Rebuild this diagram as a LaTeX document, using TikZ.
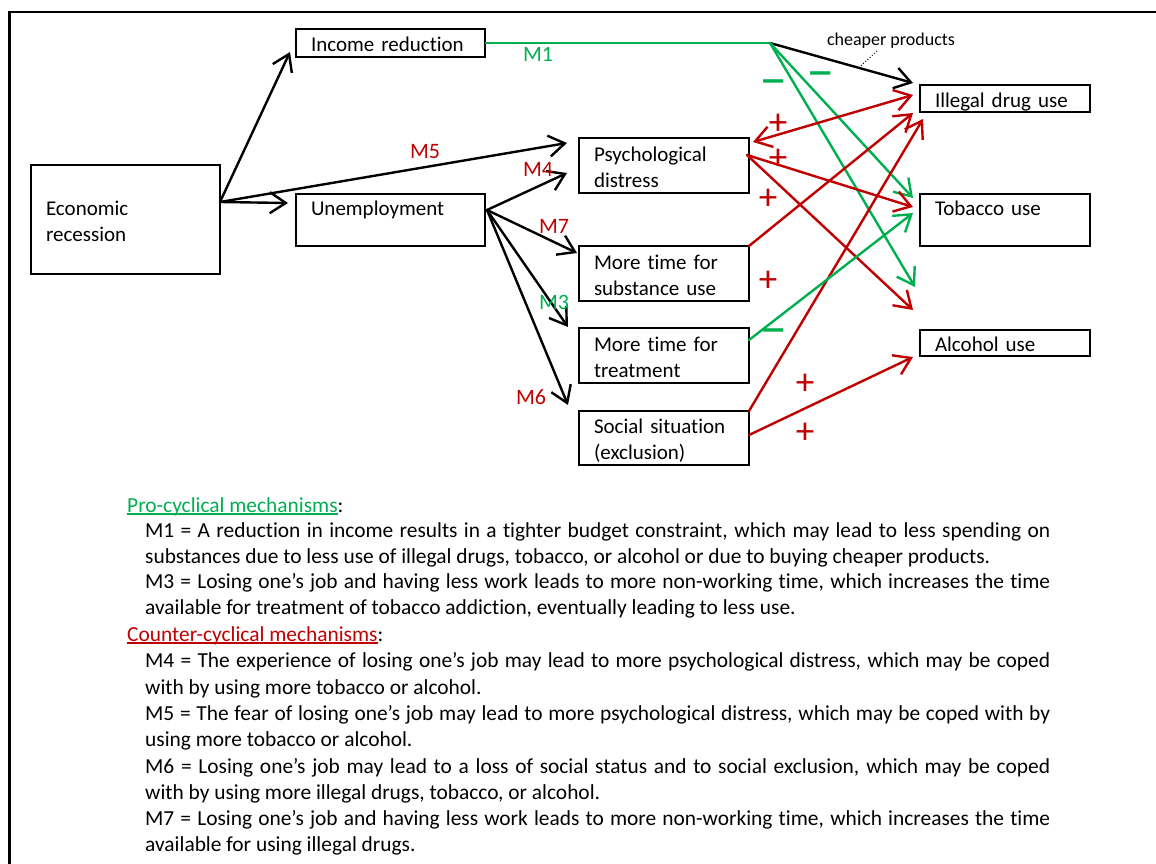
\documentclass[tikz,border=0pt]{standalone}
\usepackage{graphicx}
\usepackage{fontspec}
\setmainfont{Carlito}[Ligatures=CommonOff]
\usetikzlibrary{arrows.meta,calc}
\definecolor{ured}{RGB}{192,0,0}
\definecolor{ugreen}{RGB}{0,176,80}
% coloured, underlined heading followed by a black colon
\newcommand\mechhead[2]{{\color{#1}\setbox0\hbox{#2}\rlap{\rule[-3pt]{\wd0}{1.7pt}}\box0}:}
% strut used inside the boxes (lowered text block)
\newcommand\boxstrut{\rule[-4.3pt]{0pt}{26pt}}
% thick minus sign
\newcommand\thickminus{\scalebox{1.9}[1.3]{\bfseries –}}
% plus sign whose box is centred on its ink
\newcommand\plussign{\raisebox{-11.7pt}[7pt][7pt]{+}}

\begin{document}
\begin{tikzpicture}[x=1pt, y=-1pt,
  font=\fontsize{21}{26}\selectfont,
  box/.style={draw, line width=2.4pt, outer sep=0pt, inner xsep=15pt, inner ysep=0pt,
              align=left, anchor=north west,
              execute at begin node=\boxstrut, execute at end node=\boxstrut},
  conn/.style={line width=2.4pt, line cap=round, -{Straight Barb[length=16pt,width=21pt]}},
  both/.style={line width=2.4pt, line cap=round, {Straight Barb[length=16pt,width=21pt]}-{Straight Barb[length=16pt,width=21pt]}},
  mlab/.style={font=\fontsize{22}{26}\selectfont, inner sep=0pt},
  plus/.style={ured, font=\fontsize{37}{37}\selectfont, inner sep=0pt},
  minus/.style={ugreen, font=\fontsize{30}{30}\selectfont, inner sep=0pt},
  body/.style={anchor=base west, inner sep=0pt, font=\fontsize{21.4}{26}\selectfont}]

\useasboundingbox (0,0) rectangle (1156,864);

% outer frame (top and left edges)
\draw[line width=2.6pt] (1162,12) -- (9.5,12) -- (9.5,870);

% boxes
\node[box, text width=159pt, minimum height=109pt] (er) at (31,165) {Economic\\recession};
\node[box, text width=159pt, minimum height=28pt] (inc) at (296,29) {Income reduction};
\node[box, text width=159pt, minimum height=52pt] (une) at (296,194) {Unemployment\\\mbox{}};
\node[box, text width=140pt, minimum height=55pt] (psy) at (579,138) {Psychological\\distress};
\node[box, text width=140pt, minimum height=55pt] (sub) at (579,246) {More time for\\substance use};
\node[box, text width=140pt, minimum height=55pt] (trt) at (579,328) {More time for\\treatment};
\node[box, text width=140pt, minimum height=54pt] (soc) at (579,411) {Social situation\\(exclusion)};
\node[box, text width=140pt, minimum height=27pt] (ill) at (920,85) {Illegal drug use};
\node[box, text width=140pt, minimum height=52pt] (tob) at (920,194) {Tobacco use\\\mbox{}};
\node[box, text width=140pt, minimum height=26pt] (alc) at (920,330) {Alcohol use};

% economic recession -> income reduction, unemployment, psychological distress
\coordinate (src) at ($(er.north east)+(0,37)$);
\draw[conn] (src) -- ($(inc.south west)+(-6,-5)$);
\draw[conn] (src) -- ($(une.north west)+(-8,9)$);
\draw[conn] (src) -- ($(psy.north west)+(-12,5)$);
\node[mlab, ured] (m5) at (425,152) {M5};

% unemployment -> intermediate mechanisms
\coordinate (usrc) at ($(une.north east)+(2,16)$);
\draw[conn] (usrc) -- ($(psy.north west)+(-12,35)$);
\draw[conn] (usrc) -- ($(sub.north west)+(-2,7)$);
\draw[conn] (usrc) -- ($(trt.north west)+(-11,-1)$);
\draw[conn] (usrc) -- ($(soc.north west)+(-11,-6)$);
\node[mlab, ured] (m4) at (538,169) {M4};
\node[mlab, ured] (m7) at (554,226) {M7};
\node[mlab, ugreen] (m3) at (554,302) {M3};
\node[mlab, ured] (m6) at (531,397) {M6};

% income reduction -> substance use (M1)
\coordinate (split) at (770,43);
\coordinate (illtip) at ($(ill.north west)+(-7,-2)$);
\draw[ugreen, line width=2.4pt] (inc.east) -- (split);
\draw[conn] (split) -- (illtip);
\draw[conn, ugreen] (split) -- ($(tob.north west)+(-7,4)$);
\draw[conn, ugreen] (split) -- ($(alc.north west)+(-5,-43)$);
\node[mlab, ugreen] (m1) at (538,54) {M1};
\node[font=\fontsize{18}{20}\selectfont, inner sep=0pt] (cp) at (891,41) {cheaper products};
\draw[dotted, line width=1pt] ($(split)!0.62!(illtip)$) -- ($(cp.south)+(-14,2)$);
\node[minus] (n1) at (774,86) {\thickminus};
\node[minus] (n2) at (821,78) {\thickminus};

% intermediate mechanisms -> substance use
\draw[both, ured] ($(psy.north east)+(4,4)$) -- ($(ill.south west)+(-7,-17)$);
\draw[conn, ured] ($(psy.north east)+(-2,17)$) -- ($(tob.north west)+(-7,13)$);
\draw[conn, ured] ($(psy.north east)+(-2,17)$) -- ($(alc.north west)+(-7,-20)$);
\draw[conn, ured] (sub.north east) -- ($(ill.south west)+(-7,1)$);
\draw[conn, ured] (soc.north east) -- ($(ill.south west)+(3,7)$);
\draw[conn, ured] ($(soc.north east)+(0,24)$) -- ($(alc.south west)+(-7,1)$);
\draw[conn, ugreen] ($(trt.north east)+(0,12)$) -- ($(tob.north west)+(-7,19)$);
\node[minus] (n3) at (774,335) {\thickminus};

\node[plus] (p1) at (778,123) {\plussign};
\node[plus] (p2) at (778,158) {\plussign};
\node[plus] (p3) at (768,198) {\plussign};
\node[plus] (p4) at (768,280) {\plussign};
\node[plus] (p5) at (805,383) {\plussign};
\node[plus] (p6) at (805,432) {\plussign};

% legend of mechanisms
\node[body] (hp) at (127,512) {\mechhead{ugreen}{Pro-cyclical mechanisms}};
\node[body] (l1a) at (145,537.5) {\makebox[905pt][s]{M1 = A reduction in income results in a tighter budget constraint, which may lead to less spending on}};
\node[body] (l1b) at (145,563) {substances due to less use of illegal drugs, tobacco, or alcohol or due to buying cheaper products.};
\node[body] (l3a) at (145,588.5) {\makebox[905pt][s]{M3 = Losing one’s job and having less work leads to more non-working time, which increases the time}};
\node[body] (l3b) at (145,614) {available for treatment of tobacco addiction, eventually leading to less use.};
\node[body] (hc) at (127,641) {\mechhead{ured}{Counter-cyclical mechanisms}};
\node[body] (l4a) at (145,667.5) {\makebox[905pt][s]{M4 = The experience of losing one’s job may lead to more psychological distress, which may be coped}};
\node[body] (l4b) at (145,694) {with by using more tobacco or alcohol.};
\node[body] (l5a) at (145,720) {\makebox[905pt][s]{M5 = The fear of losing one’s job may lead to more psychological distress, which may be coped with by}};
\node[body] (l5b) at (145,746) {using more tobacco or alcohol.};
\node[body] (l6a) at (145,773) {\makebox[905pt][s]{M6 = Losing one’s job may lead to a loss of social status and to social exclusion, which may be coped}};
\node[body] (l6b) at (145,799) {with by using more illegal drugs, tobacco, or alcohol.};
\node[body] (l7a) at (145,825) {\makebox[905pt][s]{M7 = Losing one’s job and having less work leads to more non-working time, which increases the time}};
\node[body] (l7b) at (145,851) {available for using illegal drugs.};
\end{tikzpicture}
\end{document}
